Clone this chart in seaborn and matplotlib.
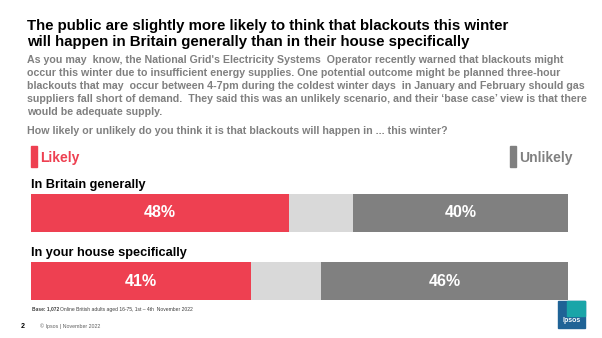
import matplotlib
matplotlib.use("Agg")
import matplotlib.pyplot as plt
import seaborn as sns
import pandas as pd
from matplotlib.patches import Rectangle

categories = ["In Britain generally", "In your house specifically"]
likely = [48, 41]
neither = [12, 13]
unlikely = [40, 46]

sns.set_theme(style="white")
plt.rcParams['font.family'] = ['Liberation Sans', 'DejaVu Sans']

RED = "#EE4051"
LGREY = "#D9D9D9"
DGREY = "#808080"
TGREY = "#808080"

W, H = 602, 338
fig = plt.figure(figsize=(W/100, H/100), dpi=100)

def fx(px): return px / W
def fy(py): return 1 - py / H

df = pd.DataFrame({"cat": categories, "likely": likely, "neither": neither, "unlikely": unlikely})
df["c2"] = df["likely"] + df["neither"]
df["c3"] = df["c2"] + df["unlikely"]

ax = fig.add_axes([fx(31), fy(304), fx(537), (304 - 190) / H])
sns.barplot(data=df, y="cat", x="c3", color=DGREY, width=0.56, orient="h", ax=ax, saturation=1, linewidth=0)
sns.barplot(data=df, y="cat", x="c2", color=LGREY, width=0.56, orient="h", ax=ax, saturation=1, linewidth=0)
sns.barplot(data=df, y="cat", x="likely", color=RED, width=0.56, orient="h", ax=ax, saturation=1, linewidth=0)
ax.set_xlim(0, 100)
ax.set_ylim(1.338, -0.338)
ax.axis("off")

for i, row in df.iterrows():
    ax.text(row["likely"] / 2, i, f"{row['likely']}%", color="white", fontsize=11.5,
            fontweight="bold", ha="center", va="center")
    ax.text(row["c2"] + row["unlikely"] / 2, i, f"{row['unlikely']}%", color="white",
            fontsize=11.5, fontweight="bold", ha="center", va="center")
    ax.text(0, i - 0.41, row["cat"], color="black", fontsize=9.2, fontweight="bold",
            ha="left", va="center")

# Title
fig.text(fx(27), fy(34), "The public are slightly more likely to think that blackouts this winter\nwill happen in Britain generally than in their house specifically",
         fontsize=10.8, fontweight="bold", color="black", ha="left", va="center", linespacing=1.2)

body = ("As you may  know, the National Grid's Electricity Systems  Operator recently warned that blackouts might\n"
        "occur this winter due to insufficient energy supplies. One potential outcome might be planned three-hour\n"
        "blackouts that may  occur between 4-7pm during the coldest winter days  in January and February should gas\n"
        "suppliers fall short of demand.  They said this was an unlikely scenario, and their \u2018base case\u2019 view is that there\n"
        "would be adequate supply.")
fig.text(fx(27), fy(86), body, fontsize=7.65, fontweight="bold", color=TGREY, ha="left", va="center", linespacing=1.38)
fig.text(fx(27), fy(131), "How likely or unlikely do you think it is that blackouts will happen in ... this winter?",
         fontsize=7.65, fontweight="bold", color=TGREY, ha="left", va="center")

# Legend markers
fig.patches.append(Rectangle((fx(31), fy(167)), fx(6), 21 / H, transform=fig.transFigure, color=RED))
fig.text(fx(40), fy(158), "Likely", fontsize=10, fontweight="bold", color=RED, ha="left", va="center")
fig.patches.append(Rectangle((fx(510), fy(167)), fx(6), 21 / H, transform=fig.transFigure, color=DGREY))
fig.text(fx(519), fy(158), "Unlikely", fontsize=10, fontweight="bold", color=DGREY, ha="left", va="center")

# Footer
fig.text(fx(32), fy(309), "Base: 1,072", fontsize=3.5, fontweight="bold", color="#404040", ha="left", va="center")
fig.text(fx(59.5), fy(309), "Online British adults aged 16-75, 1st \u2013 4th  November 2022", fontsize=3.6,
         color="#404040", ha="left", va="center")
fig.text(fx(21), fy(326), "2", fontsize=5, fontweight="bold", color="black", ha="left", va="center")
fig.text(fx(40), fy(326), "\u00a9 Ipsos | November 2022", fontsize=3.8, color="#606060", ha="left", va="center")

# Ipsos logo
fig.patches.append(Rectangle((fx(558), fy(328)), fx(27), 27 / H, transform=fig.transFigure, color="#1F6396"))
fig.patches.append(Rectangle((fx(567), fy(316)), fx(18), 15 / H, transform=fig.transFigure, color="#1AA5A8"))
fig.text(fx(571.5), fy(321), "Ipsos", fontsize=5, fontweight="bold", color="white", ha="center", va="center")

fig.savefig("out.png", dpi=100)
